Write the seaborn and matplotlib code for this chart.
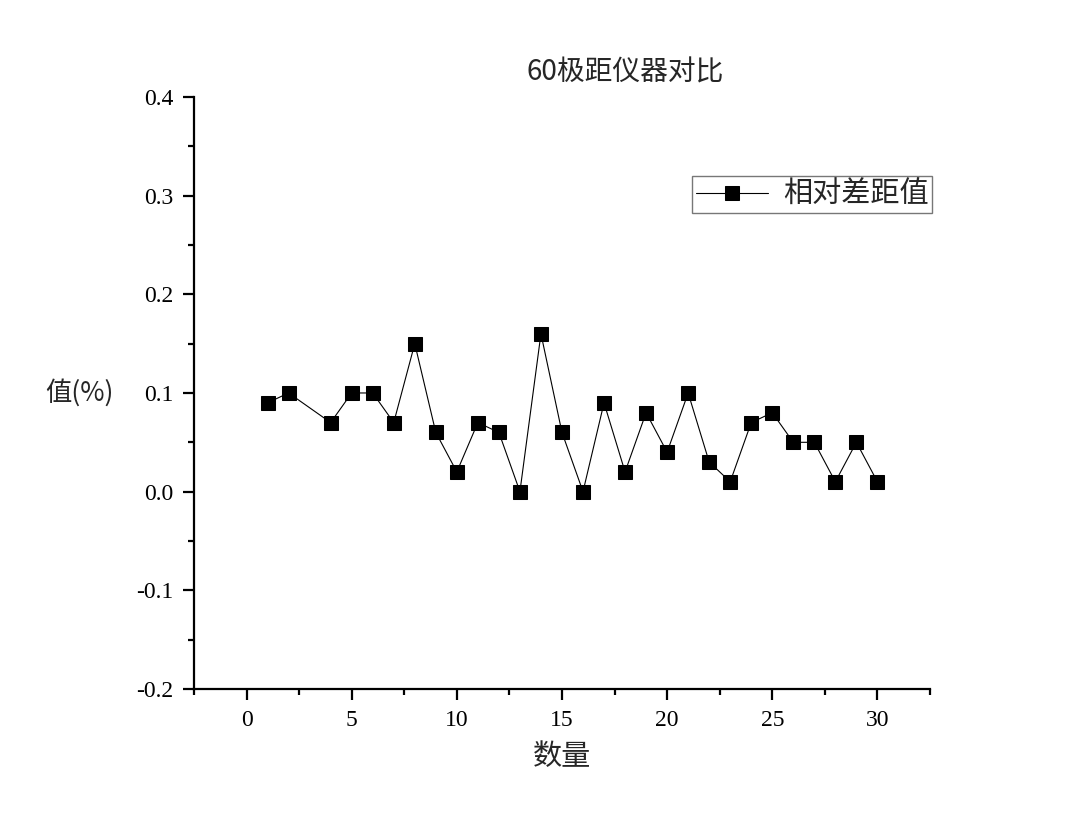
import matplotlib
matplotlib.use("Agg")
import matplotlib.pyplot as plt
import seaborn as sns
import pandas as pd
from matplotlib.ticker import MultipleLocator, FuncFormatter

x_vals = [1, 2, 4, 5, 6, 7, 8, 9, 10, 11, 12, 13, 14, 15, 16, 17, 18, 19, 20,
          21, 22, 23, 24, 25, 26, 27, 28, 29, 30]
y_vals = [0.09, 0.10, 0.07, 0.10, 0.10, 0.07, 0.15, 0.06, 0.02, 0.07, 0.06, 0.00,
          0.16, 0.06, 0.00, 0.09, 0.02, 0.08, 0.04, 0.10, 0.03, 0.01, 0.07, 0.08,
          0.05, 0.05, 0.01, 0.05, 0.01]
series_name = "相对差距值"
title = "60极距仪器对比"
xlabel = "数量"
ylabel = "值(%)"

sns.set_style("ticks")
plt.rcParams['font.family'] = ['Noto Sans CJK SC', 'DejaVu Sans']

df = pd.DataFrame({"x": x_vals, "y": y_vals, "s": series_name})

fig = plt.figure(figsize=(10.8, 8.26), dpi=100)
ax = fig.add_axes([0.1796, 0.1659, 0.6815, 0.7167])

sns.lineplot(data=df, x="x", y="y", hue="s", palette=["black"], marker="s",
             markersize=10, markeredgecolor="black", linewidth=0.8,
             ax=ax, legend=True)

ax.xaxis.set_major_locator(MultipleLocator(5))
ax.xaxis.set_minor_locator(MultipleLocator(2.5))
ax.yaxis.set_major_locator(MultipleLocator(0.1))
ax.yaxis.set_minor_locator(MultipleLocator(0.05))
ax.yaxis.set_major_formatter(FuncFormatter(lambda v, p: f"{v:.1f}" if abs(v) > 1e-9 else "0.0"))
ax.set_xlim(-2.5, 32.5)
ax.set_ylim(-0.2, 0.4)

for side in ["top", "right"]:
    ax.spines[side].set_visible(False)
for side in ["left", "bottom"]:
    ax.spines[side].set_linewidth(1.6)
    ax.spines[side].set_color("black")

ax.tick_params(which="major", direction="out", length=8, width=1.6, colors="black",
               labelsize=17, pad=7)
ax.tick_params(which="minor", direction="out", length=4, width=1.6, colors="black")
for lab in ax.get_xticklabels() + ax.get_yticklabels():
    lab.set_family(["Liberation Serif", "DejaVu Serif"])

ax.set_xlabel(xlabel, fontsize=21, labelpad=8)
ax.set_ylabel(ylabel, fontsize=19, rotation=0, labelpad=10, va="center")
ax.yaxis.set_label_coords(-0.155, (0.1 + 0.2) / 0.6)
ax.set_title(title, fontsize=20, x=0.586, pad=12)

handles, labels = ax.get_legend_handles_labels()
leg = ax.legend(handles, labels, loc="upper right", bbox_to_anchor=(1.003, 0.866),
                fontsize=21, frameon=True, fancybox=False, handlelength=2.5,
                borderpad=0.12, handletextpad=0.5, borderaxespad=0)
leg.get_frame().set_edgecolor("#555555")
leg.get_frame().set_linewidth(1.0)

fig.savefig("out.png", dpi=100, facecolor="white")
